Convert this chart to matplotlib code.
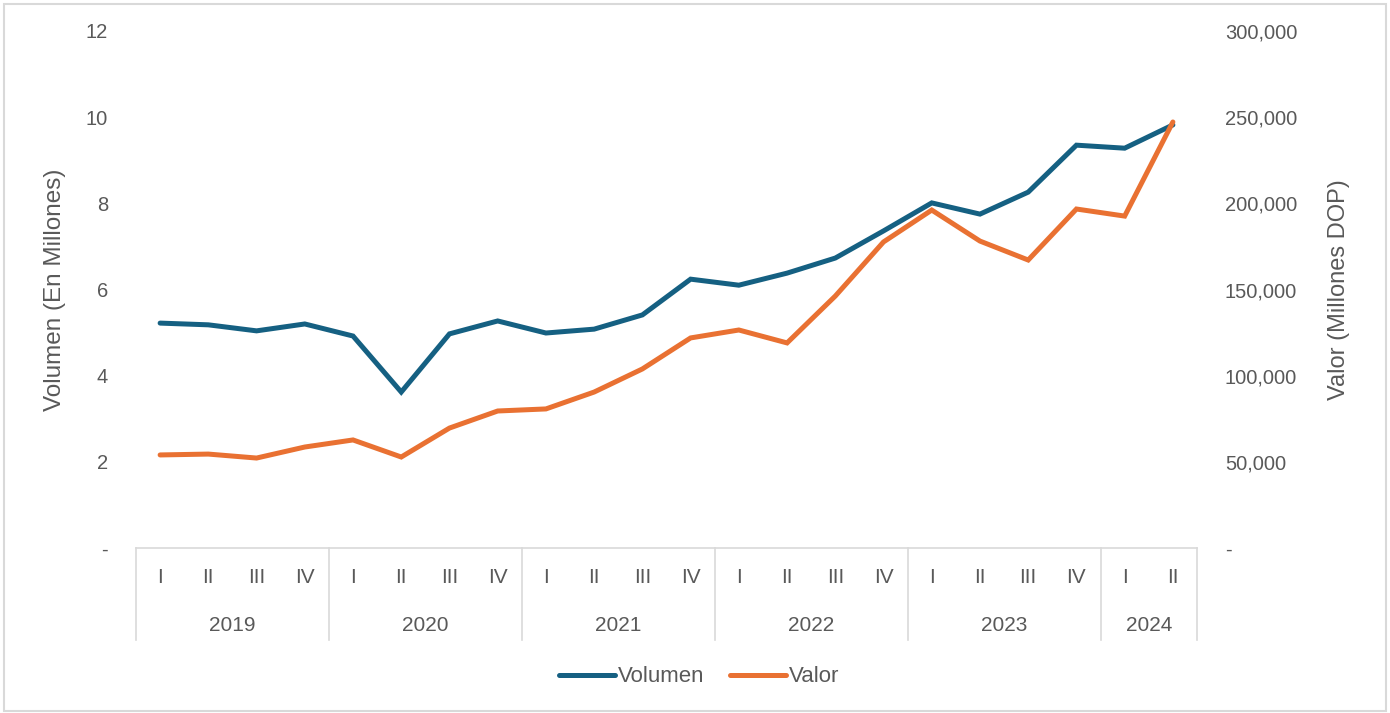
import matplotlib.pyplot as plt
from matplotlib.ticker import FuncFormatter
from matplotlib.patches import Rectangle

plt.rcParams['font.family'] = ['Liberation Sans', 'DejaVu Sans']

years = ["2019", "2020", "2021", "2022", "2023", "2024"]
quartersPerYear = [4, 4, 4, 4, 4, 2]
quarterNames = ["I", "II", "III", "IV"]

volumen = [5.22, 5.18, 5.04, 5.20, 4.92, 3.62, 4.97, 5.27,
           4.99, 5.08, 5.41, 6.24, 6.10, 6.38, 6.73, 7.36,
           8.01, 7.75, 8.26, 9.35, 9.28, 9.82]
valor = [54000, 54500, 52200, 58600, 62700, 52800, 69600, 79500,
         80700, 90500, 103900, 121900, 126500, 119000, 146200, 177600,
         196100, 178100, 167100, 196700, 192600, 247200]

blue = "#156082"
orange = "#E97132"
gray = "#595959"
lineGray = "#D9D9D9"

qLabels = []
for n in quartersPerYear:
    qLabels += quarterNames[:n]
x = list(range(len(qLabels)))

fig = plt.figure(figsize=(13.9, 7.13), dpi=100)
W, H = 1390, 713
ax = fig.add_axes([136 / W, 1 - 548 / H, (1197 - 136) / W, 517 / H])
ax2 = ax.twinx()

l1, = ax.plot(x, volumen, color=blue, lw=3.6, solid_capstyle="round", solid_joinstyle="miter", label="Volumen", zorder=3)
l2, = ax2.plot(x, valor, color=orange, lw=3.6, solid_capstyle="round", solid_joinstyle="miter", label="Valor", zorder=3)

ax.set_xlim(-0.5, len(x) - 0.5)
ax.set_ylim(0, 12)
ax2.set_ylim(0, 300000)
ax.set_yticks(range(0, 13, 2))
ax2.set_yticks(range(0, 300001, 50000))
ax.yaxis.set_major_formatter(FuncFormatter(lambda v, p: "-" if v == 0 else f"{v:.0f}"))
ax2.yaxis.set_major_formatter(FuncFormatter(lambda v, p: "-" if v == 0 else f"{v:,.0f}"))

for a in (ax, ax2):
    for s in a.spines.values():
        s.set_visible(False)
    a.tick_params(axis="y", length=0, labelsize=14.5, labelcolor=gray, pad=20)
ax.set_xticks([])

ax.set_ylabel("Volumen (En Millones)", fontsize=17.5, color=gray)
ax2.set_ylabel("Valor (Millones DOP)", fontsize=17, color=gray)
ax.yaxis.set_label_coords((66 - 136) / 1061, 0.5)
ax2.yaxis.set_label_coords((1328 - 136) / 1061, 0.5)

# category axis with year groups
trans = ax.get_xaxis_transform()
ax.plot([-0.5, len(x) - 0.5], [0, 0], transform=trans, color=lineGray, lw=1.2, clip_on=False)
boundary = -0.5
ax.plot([boundary, boundary], [0, -0.178], transform=trans, color=lineGray, lw=1.2, clip_on=False)
for yr, n in zip(years, quartersPerYear):
    start = boundary
    boundary += n
    ax.plot([boundary, boundary], [0, -0.178], transform=trans, color=lineGray, lw=1.2, clip_on=False)
    ax.text((start + boundary) / 2, -0.149, yr, transform=trans, ha="center", va="center",
            fontsize=15, color=gray)
for xi, q in zip(x, qLabels):
    ax.text(xi, -0.058, q, transform=trans, ha="center", va="center", fontsize=15, color=gray)

fig.legend(handles=[l1, l2], loc="center", bbox_to_anchor=(0.503, 1 - 677 / H), ncol=2,
           frameon=False, fontsize=16, labelcolor=gray, handlelength=2.5, columnspacing=1.15,
           handletextpad=0.15)

fig.patches.append(Rectangle((0.003, 0.003), 0.994, 0.992, transform=fig.transFigure,
                             fill=False, edgecolor=lineGray, lw=1.5))

fig.savefig("out.png", dpi=100)
